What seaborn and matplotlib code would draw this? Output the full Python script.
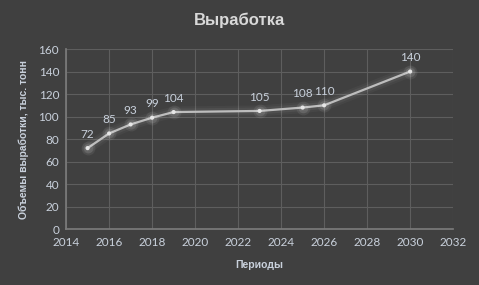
import seaborn as sns
import matplotlib.pyplot as plt
import pandas as pd

# données
years = [2015, 2016, 2017, 2018, 2019, 2023, 2025, 2026, 2030]
values = [72, 85, 93, 99, 104, 105, 108, 110, 140]
x_ticks = list(range(2014, 2033, 2))
y_ticks = list(range(0, 161, 20))

bg = '#404040'
txt = '#c9d1dc'
grid = '#5e5e5e'
line_col = '#bdbdbd'

sns.set_theme(style='dark')
plt.rcParams['font.family'] = ['Lato', 'DejaVu Sans']
bold_font = ['Liberation Sans', 'DejaVu Sans']

df = pd.DataFrame({'year': years, 'value': values})

fig = plt.figure(figsize=(4.79, 2.85), dpi=100, facecolor=bg)
ax = fig.add_axes([0.138, 0.196, 0.808, 0.632], facecolor=bg)

# effet lumineux
for lw, a in [(8, 0.035), (5, 0.05)]:
    ax.plot(years, values, color='white', lw=lw, alpha=a,
            solid_capstyle='round', solid_joinstyle='round', zorder=2)
sns.lineplot(data=df, x='year', y='value', color=line_col, lw=1.6,
             ax=ax, zorder=3)
for ms, a in [(10, 0.07), (7, 0.1)]:
    ax.plot(years, values, 'o', color='white', ms=ms, alpha=a, mec='none', zorder=3)
sns.scatterplot(data=df, x='year', y='value', color='#e6e6e6', s=9,
                edgecolor='none', ax=ax, zorder=4)

for xv, yv in zip(years, values):
    ax.annotate(str(yv), (xv, yv), xytext=(0, 6), textcoords='offset points',
                ha='center', va='bottom', color=txt, fontsize=8.5)

ax.set_xlim(2014, 2032)
ax.set_ylim(0, 160)
ax.set_xticks(x_ticks)
ax.set_yticks(y_ticks)
ax.grid(True, color=grid, lw=0.8)
for s in ax.spines.values():
    s.set_visible(False)
ax.spines['left'].set_visible(True)
ax.spines['bottom'].set_visible(True)
ax.spines['left'].set_color('#7a7a7a')
ax.spines['bottom'].set_color('#7a7a7a')
ax.tick_params(axis='y', colors=txt, labelsize=8.5, length=3, color='#7a7a7a', pad=2)
ax.tick_params(axis='x', colors=txt, labelsize=8.5, length=0, pad=6)

ax.set_xlabel('Периоды', color=txt, fontsize=7.5, fontweight='bold', labelpad=8,
              family=bold_font)
ax.set_ylabel('Объемы выработки, тыс. тонн', color=txt, fontsize=7.5,
              fontweight='bold', labelpad=7, family=bold_font)
fig.suptitle('Выработка', color='#d9d9d9', fontsize=12, fontweight='bold',
             y=0.955, family=bold_font)

fig.savefig('out.png', dpi=100, facecolor=bg)
